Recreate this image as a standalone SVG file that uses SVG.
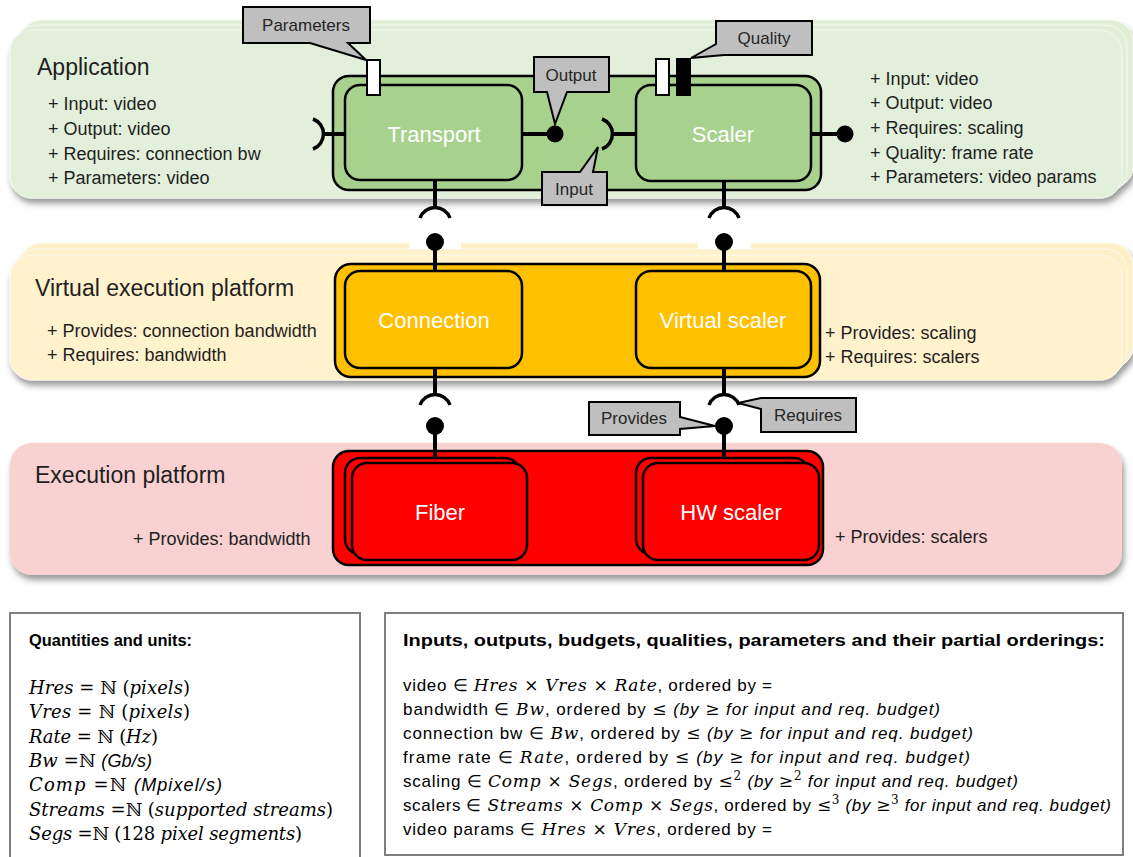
<svg xmlns="http://www.w3.org/2000/svg" width="1133" height="857" viewBox="0 0 1133 857">
<defs>
<filter id="sh" x="-5%" y="-20%" width="110%" height="150%">
<feDropShadow dx="2" dy="5" stdDeviation="3" flood-color="#000" flood-opacity="0.4"/>
</filter>
<style>
.t{font-family:"Liberation Sans",Arial,sans-serif;fill:#1f1f1f}
.ttl{font-size:23px}
.lst{font-size:18px}
.cmp{font-family:"Liberation Sans",Arial,sans-serif;font-size:22px;fill:#fff;text-anchor:middle}
.co{fill:#bfbfbf;stroke:#000;stroke-width:2;stroke-linejoin:miter}
.cot{font-family:"Liberation Sans",Arial,sans-serif;font-size:17px;fill:#262626;text-anchor:middle}
.ln{stroke:#000;stroke-width:4;fill:none}
.sk{stroke:#000;stroke-width:3.5;fill:none}
.ball{fill:#000}
.box{stroke:#000;stroke-width:2.5}
.math{font-family:"DejaVu Serif","Liberation Serif",serif;font-style:italic}
.up{font-family:"DejaVu Serif","Liberation Serif",serif;font-style:normal}
.bx{fill:#fff;stroke:#7f7f7f;stroke-width:2}
.hd{font-family:"Liberation Sans",Arial,sans-serif;font-weight:bold;font-size:16.5px;fill:#000}
.ml{font-size:17px;fill:#000}
.sans{font-family:"Liberation Sans",Arial,sans-serif;font-style:normal}
.si{font-family:"Liberation Sans",Arial,sans-serif;font-style:italic}
</style>
</defs>

<!-- Application layer -->
<g id="application-layer">
<g filter="url(#sh)">
<rect x="20" y="20" width="1113" height="168" rx="22" fill="#dfeed5" stroke="#f4f9f0" stroke-width="1"/>
<rect x="15" y="25" width="1112" height="168" rx="22" fill="#e0eed7" stroke="#f4f9f0" stroke-width="1"/>
<rect x="10" y="30" width="1112" height="168" rx="22" fill="#e2efda" stroke="#f4f9f0" stroke-width="1"/>
</g>
<text class="t ttl" x="37" y="75">Application</text>
<text class="t lst" x="48" y="110">+ Input: video</text>
<text class="t lst" x="48" y="135">+ Output: video</text>
<text class="t lst" x="48" y="160">+ Requires: connection bw</text>
<text class="t lst" x="48" y="184">+ Parameters: video</text>
<text class="t lst" x="870" y="85">+ Input: video</text>
<text class="t lst" x="870" y="109">+ Output: video</text>
<text class="t lst" x="870" y="134">+ Requires: scaling</text>
<text class="t lst" x="870" y="159">+ Quality: frame rate</text>
<text class="t lst" x="870" y="183">+ Parameters: video params</text>
</g>

<!-- Virtual execution platform layer -->
<g id="vep-layer">
<g filter="url(#sh)">
<rect x="20" y="243" width="1113" height="125" rx="22" fill="#fdefc6" stroke="#fffaf0" stroke-width="1"/>
<rect x="15" y="249" width="1112" height="125" rx="22" fill="#fef0c9" stroke="#fffaf0" stroke-width="1"/>
<rect x="10" y="255" width="1112" height="125" rx="22" fill="#fff2cc" stroke="#fffaf0" stroke-width="1"/>
</g>
<text class="t ttl" x="35" y="296">Virtual execution platform</text>
<text class="t lst" x="47" y="337">+ Provides: connection bandwidth</text>
<text class="t lst" x="47" y="361">+ Requires: bandwidth</text>
<text class="t lst" x="825" y="339">+ Provides: scaling</text>
<text class="t lst" x="825" y="363">+ Requires: scalers</text>
</g>

<!-- Execution platform layer -->
<g id="exec-layer">
<rect x="10" y="443" width="1112" height="132" rx="22" fill="#f9d1d1" filter="url(#sh)"/>
<text class="t ttl" x="35" y="483">Execution platform</text>
<text class="t lst" x="133" y="545">+ Provides: bandwidth</text>
<text class="t lst" x="835" y="543">+ Provides: scalers</text>
</g>

<!-- Application container -->
<g id="app-container">
<rect class="box" x="333" y="76" width="488" height="114" rx="16" fill="#a9d18e"/>
</g>
<g id="transport">
<rect class="box" x="345" y="85" width="177" height="95" rx="15" fill="#a9d18e"/>
<text class="cmp" x="434" y="142">Transport</text>
</g>
<g id="scaler">
<rect class="box" x="636" y="85" width="175" height="96" rx="15" fill="#a9d18e"/>
<text class="cmp" x="723" y="142">Scaler</text>
</g>

<!-- VEP container -->
<g id="vep-container">
<rect class="box" x="335" y="264" width="485" height="113" rx="16" fill="#ffc000"/>
</g>
<g id="connection">
<rect class="box" x="345" y="271" width="177" height="97" rx="15" fill="#ffc000"/>
<text class="cmp" x="434" y="328">Connection</text>
</g>
<g id="virtual-scaler">
<rect class="box" x="636" y="271" width="175" height="97" rx="15" fill="#ffc000"/>
<text class="cmp" x="723" y="328">Virtual scaler</text>
</g>

<!-- Exec container -->
<g id="exec-container">
<rect class="box" x="333" y="451" width="490" height="114" rx="16" fill="#ff0000"/>
</g>
<g id="fiber">
<rect class="box" x="345" y="458" width="175" height="96" rx="15" fill="#ff0000"/>
<rect class="box" x="352" y="463" width="175" height="97" rx="15" fill="#ff0000"/>
<text class="cmp" x="440" y="520">Fiber</text>
</g>
<g id="hw-scaler">
<rect class="box" x="636" y="458" width="173" height="96" rx="15" fill="#ff0000"/>
<rect class="box" x="643" y="463" width="176" height="97" rx="15" fill="#ff0000"/>
<text class="cmp" x="731" y="520">HW scaler</text>
</g>

<!-- Connectors -->
<g id="connectors">
<rect x="409" y="238" width="52" height="11" fill="#fff"/>
<rect x="698" y="238" width="53" height="11" fill="#fff"/>
<!-- app left input -->
<path class="ln" d="M322,134 H345"/>
<path class="sk" d="M313,119 A16,16 0 0 1 313,149"/>
<!-- transport output -->
<path class="ln" d="M522,134 H555"/>
<circle class="ball" cx="555" cy="134" r="8.5"/>
<!-- scaler input -->
<path class="ln" d="M611,134 H636"/>
<path class="sk" d="M602,119 A16,16 0 0 1 602,149"/>
<!-- scaler output -->
<path class="ln" d="M811,134 H845"/>
<circle class="ball" cx="845" cy="134" r="8.5"/>
<!-- transport down -->
<path class="ln" d="M435,180 V207"/>
<path class="sk" d="M420,218 A16,16 0 0 1 450,218"/>
<circle class="ball" cx="435" cy="242" r="9"/>
<path class="ln" d="M435,242 V271"/>
<!-- scaler down -->
<path class="ln" d="M724,181 V207"/>
<path class="sk" d="M709,218 A16,16 0 0 1 739,218"/>
<circle class="ball" cx="724" cy="242" r="9"/>
<path class="ln" d="M724,242 V271"/>
<!-- connection down -->
<path class="ln" d="M435,368 V394"/>
<path class="sk" d="M420,405 A16,16 0 0 1 450,405"/>
<circle class="ball" cx="435" cy="426" r="9"/>
<path class="ln" d="M435,426 V458"/>
<!-- virtual scaler down -->
<path class="ln" d="M724,368 V394"/>
<path class="sk" d="M709,405 A16,16 0 0 1 739,405"/>
<circle class="ball" cx="724" cy="426" r="9"/>
<path class="ln" d="M724,426 V458"/>
</g>

<!-- Ports -->
<g id="ports">
<rect x="367" y="60" width="13" height="35" fill="#fff" stroke="#000" stroke-width="2"/>
<rect x="656" y="59" width="13" height="36" fill="#fff" stroke="#000" stroke-width="2"/>
<rect x="677" y="59" width="13" height="36" fill="#000" stroke="#000" stroke-width="2"/>
</g>

<!-- Callouts -->
<g id="callout-parameters">
<path class="co" d="M243,7 H370 V43 H348 L366,60 L310,43 H243 Z"/>
<text class="cot" x="306" y="31">Parameters</text>
</g>
<g id="callout-output">
<path class="co" d="M534,57 H609 V92 H567 L555,124 L547,92 H534 Z"/>
<text class="cot" x="571" y="81">Output</text>
</g>
<g id="callout-input">
<path class="co" d="M542,172 H580 L598,147 L593,172 H607 V205 H542 Z"/>
<text class="cot" x="574" y="195">Input</text>
</g>
<g id="callout-quality">
<path class="co" d="M716,21 H812 V55 H724 L691,58 L716,44 Z"/>
<text class="cot" x="764" y="44">Quality</text>
</g>
<g id="callout-provides">
<path class="co" d="M589,402 H680 V417 L715,426 L680,429 V435 H589 Z"/>
<text class="cot" x="634" y="424">Provides</text>
</g>
<g id="callout-requires">
<path class="co" d="M761,398 H856 V432 H761 V409 L738,403 Z"/>
<text class="cot" x="808" y="421">Requires</text>
</g>

<!-- Quantities box -->
<g id="quantities">
<rect class="bx" x="10" y="613" width="350" height="260"/>
<text class="hd" x="29" y="646" textLength="163" lengthAdjust="spacingAndGlyphs">Quantities and units:</text>
<g font-size="18" fill="#000">
<text x="29" y="694" textLength="161"><tspan class="math">Hres</tspan><tspan class="up"> = ℕ (</tspan><tspan class="math">pixels</tspan><tspan class="up">)</tspan></text>
<text x="29" y="718" textLength="161"><tspan class="math">Vres</tspan><tspan class="up"> = ℕ (</tspan><tspan class="math">pixels</tspan><tspan class="up">)</tspan></text>
<text x="29" y="743" textLength="129"><tspan class="math">Rate</tspan><tspan class="up"> = ℕ (</tspan><tspan class="math">Hz</tspan><tspan class="up">)</tspan></text>
<text x="29" y="767" textLength="123"><tspan class="math">Bw</tspan><tspan class="up"> =ℕ </tspan><tspan class="si">(Gb/s)</tspan></text>
<text x="29" y="791" textLength="193"><tspan class="math">Comp</tspan><tspan class="up"> =ℕ </tspan><tspan class="si">(Mpixel/s)</tspan></text>
<text x="29" y="816" textLength="304"><tspan class="math">Streams</tspan><tspan class="up"> =ℕ (</tspan><tspan class="math">supported streams</tspan><tspan class="up">)</tspan></text>
<text x="29" y="840" textLength="273"><tspan class="math">Segs</tspan><tspan class="up"> =ℕ (128 </tspan><tspan class="math">pixel segments</tspan><tspan class="up">)</tspan></text>
</g>
</g>

<!-- Orderings box -->
<g id="orderings">
<rect class="bx" x="385" y="613" width="738" height="242"/>
<text class="hd" x="403" y="646" textLength="702" lengthAdjust="spacingAndGlyphs">Inputs, outputs, budgets, qualities, parameters and their partial orderings:</text>
<g class="ml">
<text x="403" y="691" textLength="369"><tspan class="sans">video ∈ </tspan><tspan class="math">Hres</tspan><tspan class="up"> × </tspan><tspan class="math">Vres</tspan><tspan class="up"> × </tspan><tspan class="math">Rate</tspan><tspan class="sans">, ordered by =</tspan></text>
<text x="403" y="715" textLength="537"><tspan class="sans">bandwidth ∈ </tspan><tspan class="math">Bw</tspan><tspan class="sans">, ordered by </tspan><tspan class="up">≤</tspan><tspan class="si"> (by </tspan><tspan class="up">≥</tspan><tspan class="si"> for input and req. budget)</tspan></text>
<text x="403" y="739" textLength="570"><tspan class="sans">connection bw ∈ </tspan><tspan class="math">Bw</tspan><tspan class="sans">, ordered by </tspan><tspan class="up">≤</tspan><tspan class="si"> (by </tspan><tspan class="up">≥</tspan><tspan class="si"> for input and req. budget)</tspan></text>
<text x="403" y="763" textLength="567"><tspan class="sans">frame rate ∈ </tspan><tspan class="math">Rate</tspan><tspan class="sans">, ordered by  </tspan><tspan class="up">≤</tspan><tspan class="si"> (by  </tspan><tspan class="up">≥</tspan><tspan class="si">  for input and req. budget)</tspan></text>
<text x="403" y="787" textLength="615"><tspan class="sans">scaling ∈ </tspan><tspan class="math">Comp</tspan><tspan class="up"> × </tspan><tspan class="math">Segs</tspan><tspan class="sans">, ordered by  </tspan><tspan class="up">≤</tspan><tspan class="up" font-size="12" dy="-7">2</tspan><tspan class="si" dy="7"> (by </tspan><tspan class="up">≥</tspan><tspan class="up" font-size="12" dy="-7">2</tspan><tspan class="si" dy="7"> for input and req. budget)</tspan></text>
<text x="403" y="811" textLength="708"><tspan class="sans">scalers ∈ </tspan><tspan class="math">Streams</tspan><tspan class="up"> × </tspan><tspan class="math">Comp</tspan><tspan class="up"> × </tspan><tspan class="math">Segs</tspan><tspan class="sans">, ordered by </tspan><tspan class="up">≤</tspan><tspan class="up" font-size="12" dy="-7">3</tspan><tspan class="si" dy="7"> (by </tspan><tspan class="up">≥</tspan><tspan class="up" font-size="12" dy="-7">3</tspan><tspan class="si" dy="7"> for input and req. budget)</tspan></text>
<text x="403" y="835" textLength="369"><tspan class="sans">video params ∈ </tspan><tspan class="math">Hres</tspan><tspan class="up"> × </tspan><tspan class="math">Vres</tspan><tspan class="sans">, ordered by =</tspan></text>
</g>
</g>
</svg>
